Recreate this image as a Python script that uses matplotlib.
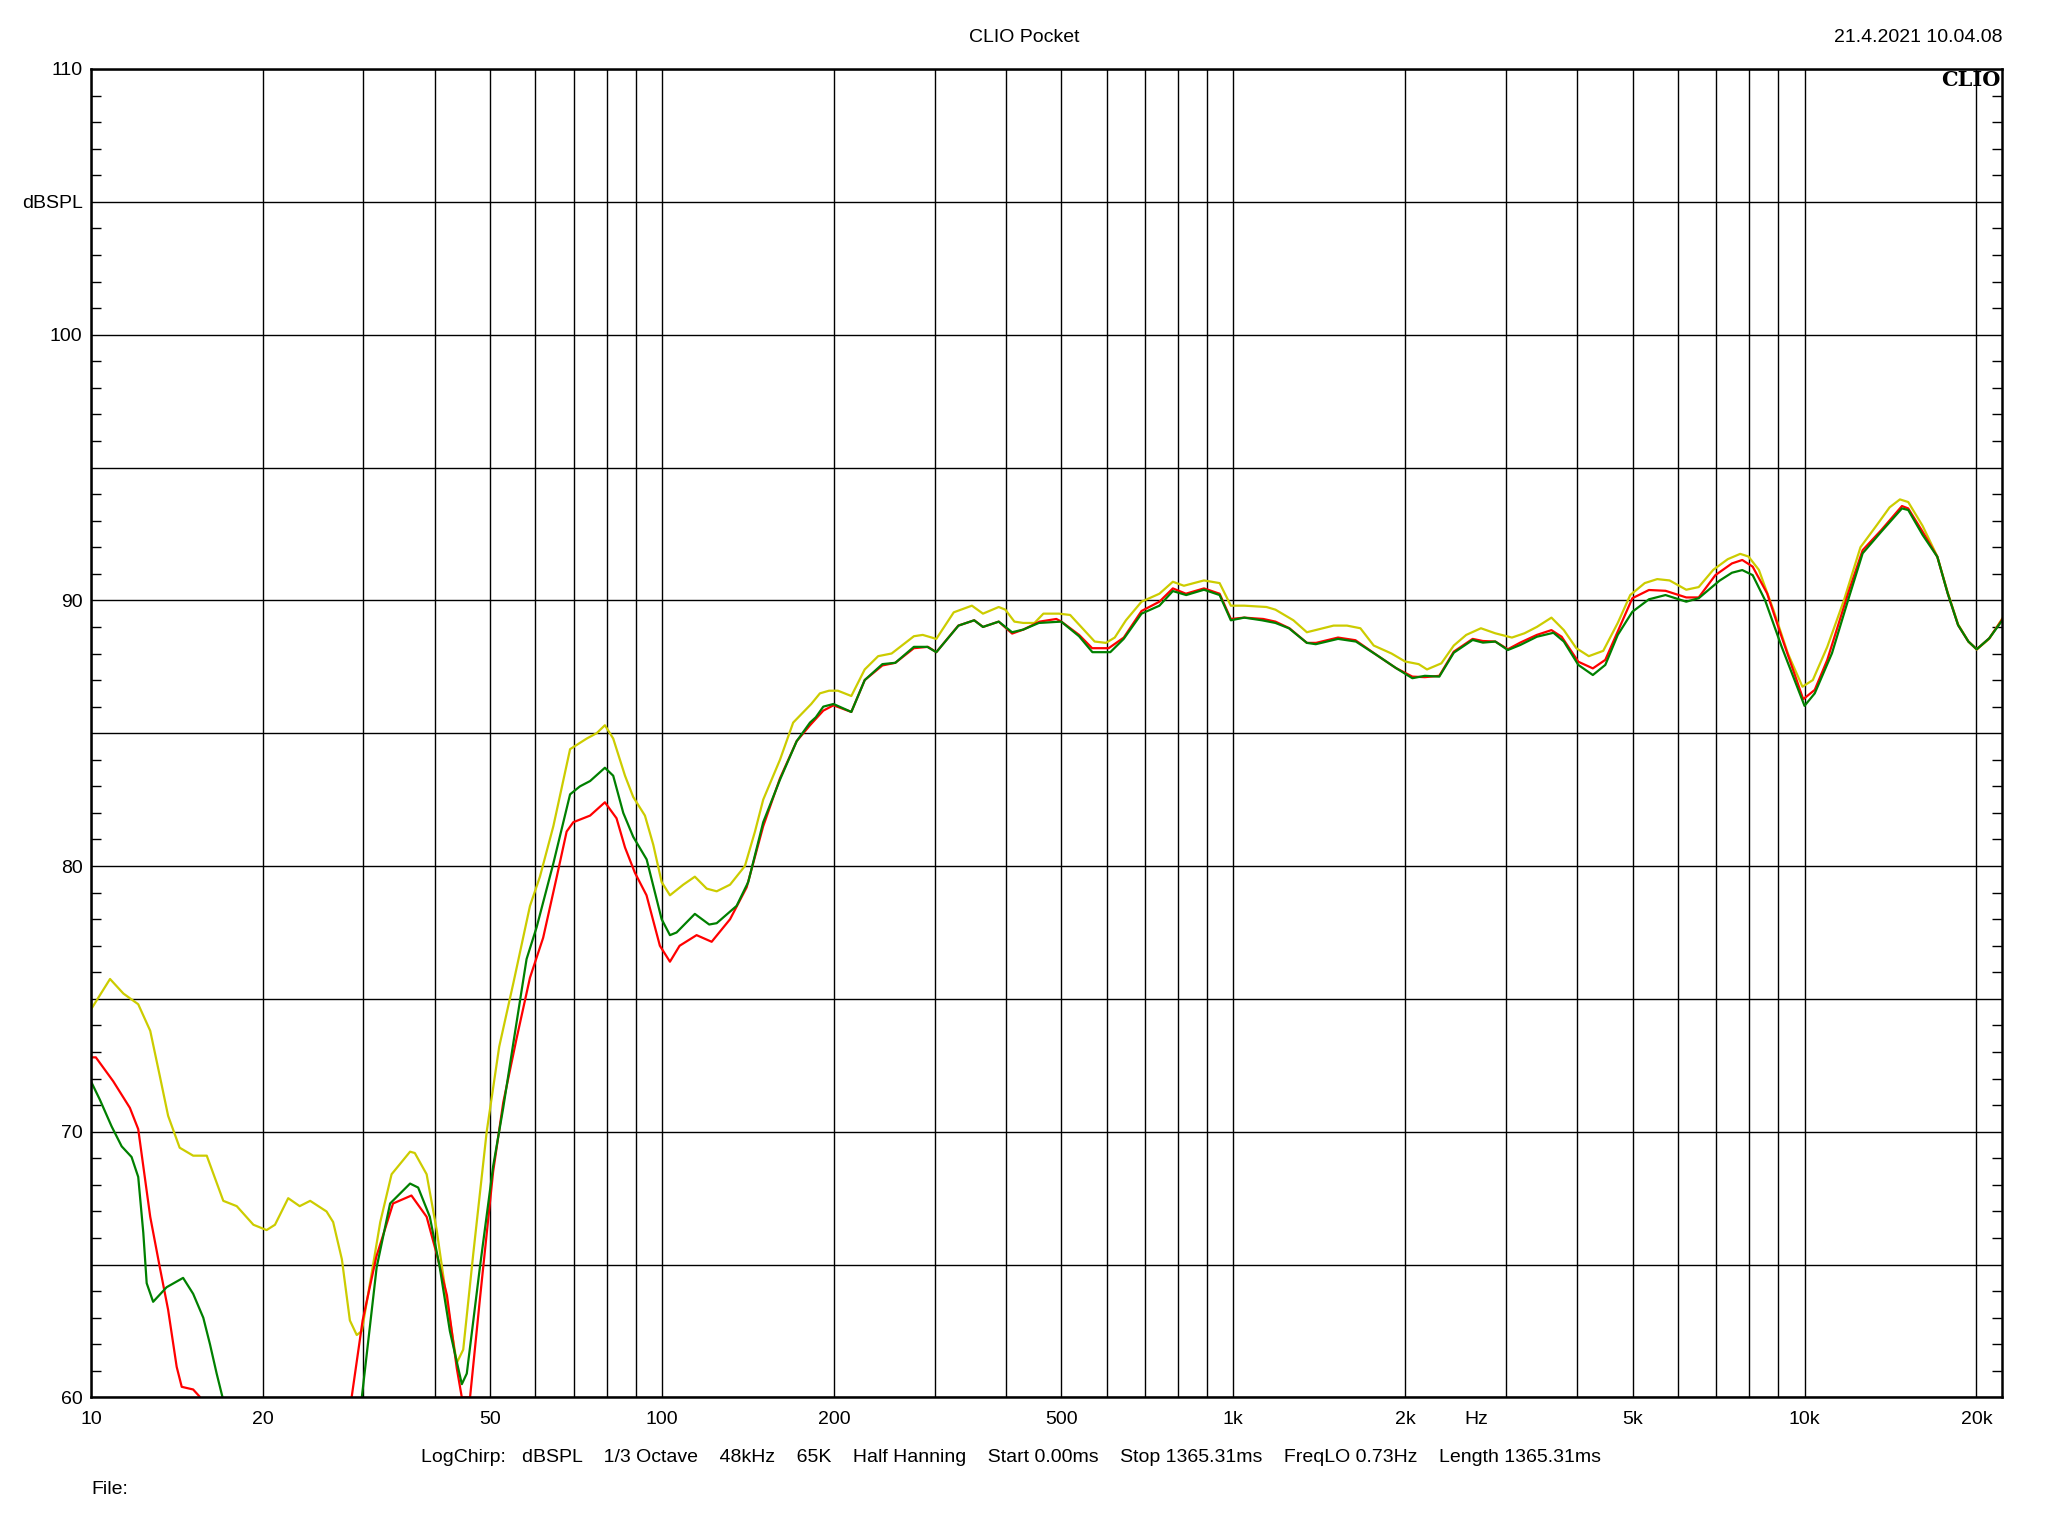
import matplotlib
matplotlib.use("Agg")
import matplotlib.pyplot as plt
import matplotlib.transforms as mtransforms


# measured curves (frequency in Hz, level in dBSPL)

yellow_f = [10.0, 10.8, 11.4, 12.1, 12.7, 13.2, 13.65, 14.3, 15.1, 15.95, 17.05, 18.0, 19.25, 20.3,
            21.0, 22.15, 23.2, 24.2, 25.85, 26.55, 27.5, 28.4, 29.2, 29.8, 30.8, 32.1, 33.6, 36.2,
            36.9, 38.7, 40.3, 41.95, 43.7, 44.85, 46.7, 49.3, 51.85, 54.9, 58.7, 61.1, 64.5, 69.0,
            73.8, 76.8, 79.4, 82.1, 86.1, 89.0, 93.3, 96.5, 99.8, 103.2, 108.9, 114.1, 119.7, 124.6,
            131.5, 139.6, 145.4, 150.3, 160.8, 169.6, 182.4, 188.9, 196.0, 203.1, 214.4, 226.3,
            238.9, 252.2, 275.9, 285.9, 302.0, 324.0, 348.6, 364.5, 388.4, 398.9, 413.7, 428.8,
            448.6, 465.0, 495.1, 518.0, 546.8, 571.8, 598.4, 620.0, 648.6, 690.7, 742.3, 783.6,
            819.4, 888.3, 946.2, 990, 1045, 1143, 1185, 1274, 1345, 1498, 1581, 1669, 1761, 1892,
            1998, 2111, 2183, 2313, 2432, 2557, 2713, 2875, 3074, 3233, 3399, 3605, 3790, 3985,
            4191, 4442, 4710, 4953, 5251, 5522, 5804, 6207, 6527, 6922, 7338, 7716, 7977, 8318,
            8818, 9352, 9916, 10340, 10960, 11720, 12530, 13400, 14090, 14690, 15190, 16100,
            17080, 17810, 18570, 19360, 20020, 21050, 22320]
yellow_db = [74.6, 75.75, 75.2, 74.8, 73.8, 72.1, 70.6, 69.4, 69.1, 69.1, 67.4, 67.2, 66.5, 66.3,
             66.5, 67.5, 67.2, 67.4, 67.0, 66.6, 65.2, 62.9, 62.35, 62.5, 64.3, 66.6, 68.4, 69.25,
             69.2, 68.4, 66.3, 63.7, 61.3, 61.8, 65.4, 70.0, 73.2, 75.6, 78.5, 79.6, 81.5, 84.4,
             84.8, 85.0, 85.3, 84.8, 83.4, 82.6, 81.9, 80.8, 79.4, 78.9, 79.3, 79.6, 79.15, 79.05,
             79.3, 80.0, 81.3, 82.5, 84.0, 85.4, 86.1, 86.5, 86.6, 86.6, 86.4, 87.4,
             87.9, 88.0, 88.65, 88.7, 88.55, 89.55, 89.8, 89.5, 89.75, 89.65, 89.2, 89.15,
             89.15, 89.5, 89.5, 89.45, 88.9, 88.45, 88.4, 88.6, 89.25, 89.95, 90.25, 90.7,
             90.55, 90.75, 90.65, 89.8, 89.8, 89.75, 89.65, 89.25, 88.8, 89.05, 89.05, 88.95, 88.3, 88.0,
             87.7, 87.6, 87.4, 87.63, 88.3, 88.7, 88.95, 88.76, 88.6, 88.76, 89.0, 89.35, 88.88, 88.2,
             87.9, 88.1, 89.15, 90.2, 90.65, 90.8, 90.75, 90.4, 90.5, 91.15, 91.55, 91.75, 91.65, 91.15,
             89.65, 88.0, 86.75, 87.0, 88.25, 90.0, 92.0, 92.85, 93.5, 93.8, 93.7, 92.8,
             91.65, 90.3, 89.1, 88.45, 88.15, 88.55, 89.4]

red_f = [10.0, 10.2, 10.94, 11.7, 12.1, 12.7, 13.2, 13.65, 14.13, 14.42, 15.1, 15.5, 16.0,
         28.0, 28.6, 29.9, 31.6, 33.8, 36.4, 38.7, 40.3, 42.0, 43.7, 44.6, 46.1, 47.97, 50.6,
         52.7, 55.6, 58.7, 61.9, 65.4, 68.05, 69.9, 74.8, 79.4, 83.2, 86.1, 89.6, 93.9, 99.1,
         103.2, 107.3, 114.9, 122.1, 131.5, 140.6, 150.3, 160.8, 172.0, 181.5, 191.5, 199.5,
         214.4, 226.3, 243, 256, 275.9, 292, 302, 330, 352, 364.5, 388.4, 410, 428.8, 458, 490,
         500, 537, 566, 605, 643, 690.7, 742.3, 783.6, 826, 888.3, 946.2, 990, 1045, 1128, 1185,
         1254, 1345, 1396, 1525, 1636, 1794, 1927, 2058, 2164, 2294, 2432, 2624, 2735, 2875,
         3024, 3179, 3399, 3605, 3757, 4018, 4260, 4479, 4750, 4995, 5341, 5710, 6207, 6527,
         6981, 7463, 7780, 8113, 8601, 9117, 9948, 10420, 10960, 11920, 12640, 13620, 14810,
         15190, 16100, 17080, 17810, 18570, 19360, 20020, 21050, 22320]
red_db = [72.8, 72.8, 71.9, 70.9, 70.1, 66.8, 64.9, 63.3, 61.15, 60.4, 60.3, 60.03, 59.0,
          59.0, 60.0, 62.9, 65.3, 67.3, 67.6, 66.8, 65.4, 63.85, 61.1, 60.0, 60.0, 63.7, 68.5,
          71.1, 73.5, 75.8, 77.3, 79.6, 81.3, 81.65, 81.9, 82.4, 81.8, 80.7, 79.75, 78.9, 77.0,
          76.4, 77.0, 77.4, 77.15, 78.0, 79.2, 81.5, 83.3, 84.7, 85.3, 85.85, 86.05,
          85.8, 87.0, 87.55, 87.65, 88.2, 88.25, 88.05, 89.05, 89.25, 89.0, 89.2, 88.75, 88.9, 89.2, 89.3,
          89.2, 88.7, 88.2, 88.2, 88.6, 89.6, 89.95, 90.45, 90.25, 90.45, 90.25, 89.3, 89.35, 89.3, 89.2,
          88.95, 88.4, 88.4, 88.6, 88.5, 87.9, 87.45, 87.13, 87.11, 87.16, 88.07, 88.55, 88.47, 88.45,
          88.16, 88.41, 88.7, 88.88, 88.63, 87.69, 87.44, 87.76, 89.01, 90.08, 90.39, 90.36, 90.11, 90.11,
          90.95, 91.39, 91.52, 91.27, 90.26, 88.63, 86.28, 86.63, 87.76, 90.26, 91.89, 92.64, 93.55,
          93.46, 92.58, 91.64, 90.26, 89.07, 88.45, 88.16, 88.57, 89.36]

green_f = [10.0, 10.37, 10.87, 11.32, 11.78, 12.1, 12.35, 12.52, 12.85, 13.57, 14.5, 15.1, 15.73,
           16.16, 16.6, 17.0, 17.5, 29.5, 29.8, 31.64, 33.4, 36.2, 37.4, 39.2, 40.8, 42.5, 44.6,
           45.5, 47.97, 50.6, 52.7, 54.9, 57.9, 60.3, 64.5, 69.0, 71.8, 74.8, 79.4, 82.1, 85.5,
           89.0, 93.95, 99.8, 103.2, 106.0, 114.1, 120.9, 124.6, 135.0, 141.5, 150.3, 160.8,
           172.0, 181.5, 185.8, 191.5, 199.5, 214.4, 226.3, 243, 256, 275.9, 291.2, 302, 330.3,
           351.7, 364.5, 388.4, 409.9, 428.8, 456.6, 499.6, 536.9, 566.6, 609, 642.8, 690.7, 742.3,
           783.6, 827, 888.3, 946.2, 990, 1045, 1122, 1185, 1251, 1345, 1394, 1525, 1639, 1794,
           1927, 2058, 2164, 2294, 2432, 2624, 2735, 2875, 3024, 3179, 3399, 3634, 3790, 4018,
           4260, 4479, 4710, 4995, 5341, 5710, 6207, 6527, 7097, 7463, 7780, 8113, 8528, 9117,
           10000, 10420, 11170, 11920, 12640, 13620, 14810, 15190, 16100, 17080, 17810, 18570,
           19360, 20020, 21050, 22320]
green_db = [71.9, 71.2, 70.2, 69.45, 69.05, 68.3, 66.2, 64.3, 63.6, 64.15, 64.5, 63.9, 63.0,
            62.0, 60.9, 60.0, 59.0, 59.0, 60.0, 64.9, 67.3, 68.05, 67.9, 66.8, 64.9, 62.5, 60.5,
            60.9, 64.9, 68.7, 70.9, 73.35, 76.5, 77.7, 80.1, 82.7, 83.0, 83.2, 83.7, 83.4, 82.0,
            81.1, 80.25, 78.0, 77.4, 77.5, 78.2, 77.8, 77.85, 78.5, 79.4, 81.65, 83.25,
            84.7, 85.4, 85.6, 86.0, 86.1, 85.8, 87.0, 87.6, 87.65, 88.25, 88.25, 88.05, 89.05,
            89.25, 89.0, 89.2, 88.8, 88.9, 89.15, 89.2, 88.65, 88.05, 88.05, 88.55, 89.5, 89.8,
            90.35, 90.2, 90.4, 90.2, 89.25, 89.35, 89.25, 89.15, 88.95, 88.4, 88.35, 88.55, 88.45, 87.9,
            87.45, 87.07, 87.16, 87.13, 88.03, 88.51, 88.41, 88.45, 88.13, 88.32, 88.63, 88.78, 88.45, 87.57,
            87.19, 87.57, 88.7, 89.57, 90.04, 90.2, 89.95, 90.08, 90.74, 91.04, 91.14, 90.95, 90.01, 88.26,
            86.03, 86.5, 88.01, 90.01, 91.77, 92.58, 93.46, 93.4, 92.46, 91.64, 90.26, 89.07,
            88.45, 88.16, 88.57, 89.32]

# axis ticks and labels
grid_freqs = [10, 20, 30, 40, 50, 60, 70, 80, 90, 100, 200, 300, 400, 500, 600, 700, 800, 900,
              1000, 2000, 3000, 4000, 5000, 6000, 7000, 8000, 9000, 10000, 20000]
freq_labels = {10: '10', 20: '20', 50: '50', 100: '100', 200: '200', 500: '500', 1000: '1k',
               2000: '2k', 5000: '5k', 10000: '10k', 20000: '20k'}
level_ticks = [60, 65, 70, 75, 80, 85, 90, 95, 100, 105, 110]
level_labels = {60: '60', 70: '70', 80: '80', 90: '90', 100: '100', 105: 'dBSPL', 110: '110'}

info_text = ("LogChirp:   dBSPL    1/3 Octave    48kHz    65K    Half Hanning    Start 0.00ms    "
             "Stop 1365.31ms    FreqLO 0.73Hz    Length 1365.31ms")

plt.rcParams['font.family'] = ['Liberation Sans', 'DejaVu Sans']
fs = 14

fig = plt.figure(figsize=(20.48, 15.36), dpi=100)
ax = fig.add_axes([0.0444, 0.0902, 0.9331, 0.8649])

ax.plot(yellow_f, yellow_db, color='#CCCC00', lw=1.6, solid_joinstyle='round')
ax.plot(red_f, red_db, color='#FF0000', lw=1.6, solid_joinstyle='round')
ax.plot(green_f, green_db, color='#008000', lw=1.6, solid_joinstyle='round')

ax.set_xscale('log')
ax.set_xlim(10, 22160)
ax.set_ylim(60, 110)

# gridlines
ax.set_xticks(grid_freqs)
ax.set_xticklabels([freq_labels.get(f, '') for f in grid_freqs], fontsize=fs)
ax.xaxis.set_minor_locator(matplotlib.ticker.NullLocator())
ax.set_yticks(level_ticks)
ax.set_yticklabels([level_labels.get(v, '') for v in level_ticks], fontsize=fs)
ax.set_yticks([v for v in range(60, 111) if v % 5 != 0], minor=True)
ax.grid(True, which='major', color='black', lw=1.0)
ax.tick_params(axis='x', which='major', length=0, pad=10)
ax.tick_params(axis='y', which='major', length=0, pad=6)
ax.tick_params(axis='y', which='minor', direction='in', length=7, width=1.0,
               left=True, right=True, color='black')

for s in ax.spines.values():
    s.set_linewidth(1.8)
    s.set_color('black')

# "Hz" unit label on the frequency axis, in line with the tick labels
trans = mtransforms.blended_transform_factory(ax.transData, ax.transAxes)
ax.annotate('Hz', xy=(2660, 0), xycoords=trans, xytext=(0, -10), textcoords='offset points',
            ha='center', va='top', fontsize=fs)

# logo
ax.text(0.999, 0.999, 'CLIO', transform=ax.transAxes, ha='right', va='top',
        fontsize=15, fontweight='bold', family='DejaVu Serif')

# header and footer texts
fig.text(0.5, 1 - 37 / 1536, 'CLIO Pocket', ha='center', va='center', fontsize=fs)
fig.text(2002 / 2048, 1 - 37 / 1536, '21.4.2021 10.04.08', ha='right', va='center', fontsize=fs)
fig.text(1011 / 2048, 1 - 1457 / 1536, info_text, ha='center', va='center', fontsize=fs)
fig.text(91 / 2048, 1 - 1490 / 1536, 'File:', ha='left', va='center', fontsize=fs)

fig.savefig('out.png', dpi=100, facecolor='white')
